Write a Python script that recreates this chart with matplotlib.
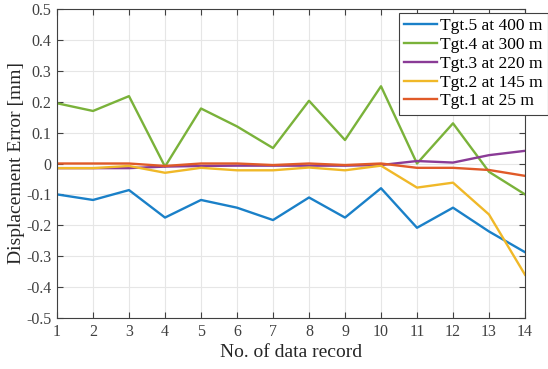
import matplotlib.pyplot as plt

# --------------------------------------------------
# Data
# --------------------------------------------------
records = list(range(1, 15))

tgt5 = [-0.100, -0.118, -0.086, -0.175, -0.118, -0.143, -0.183,
        -0.110, -0.175, -0.080, -0.208, -0.143, -0.220, -0.287]
tgt4 = [0.195, 0.170, 0.218, -0.010, 0.178, 0.120, 0.050,
        0.203, 0.076, 0.250, 0.000, 0.130, -0.027, -0.100]
tgt3 = [-0.015, -0.015, -0.015, -0.010, -0.008, -0.007, -0.007,
        -0.007, -0.007, -0.005, 0.008, 0.003, 0.027, 0.041]
tgt2 = [-0.015, -0.015, -0.008, -0.030, -0.014, -0.022, -0.022,
        -0.013, -0.022, -0.007, -0.078, -0.062, -0.165, -0.360]
tgt1 = [0.000, 0.000, 0.000, -0.008, 0.000, 0.000, -0.005,
        0.000, -0.005, 0.000, -0.014, -0.014, -0.021, -0.040]

labels = ["Tgt.5 at 400 m", "Tgt.4 at 300 m", "Tgt.3 at 220 m",
          "Tgt.2 at 145 m", "Tgt.1 at 25 m"]
colors = ["#1a80c8", "#7ab23a", "#8a3b96", "#f0b828", "#e05a28"]

plt.rcParams['font.family'] = ['Liberation Serif', 'DejaVu Serif']

# --------------------------------------------------
# Plot
# --------------------------------------------------
fig = plt.figure(figsize=(5.48, 3.69), dpi=100)
ax = fig.add_axes([57 / 548, 1 - 318 / 369, 468 / 548, 309 / 369])

for series, label, color in zip([tgt5, tgt4, tgt3, tgt2, tgt1], labels, colors):
    ax.plot(records, series, color=color, linewidth=1.7, label=label)

ax.set_xlim(1, 14)
ax.set_ylim(-0.5, 0.5)
ax.set_xticks(records)
ax.set_yticks([-0.5, -0.4, -0.3, -0.2, -0.1, 0, 0.1, 0.2, 0.3, 0.4, 0.5])
ax.set_yticklabels(["-0.5", "-0.4", "-0.3", "-0.2", "-0.1", "0",
                    "0.1", "0.2", "0.3", "0.4", "0.5"])
ax.tick_params(direction='in', top=True, right=True, labelsize=11.5,
               colors='#404040', length=4, pad=4)
ax.grid(color='#e6e6e6', linewidth=0.8)
ax.set_axisbelow(True)
for spine in ax.spines.values():
    spine.set_color('#404040')
    spine.set_linewidth(0.8)

ax.set_xlabel("No. of data record", fontsize=14, color='#262626', labelpad=3)
ax.set_ylabel("Displacement Error [mm]", fontsize=14, color='#262626', labelpad=1)

leg = ax.legend(loc='upper right', bbox_to_anchor=(1.0, 1 - 13 / 369),
                bbox_transform=fig.transFigure, fontsize=12.5, frameon=True,
                fancybox=False, edgecolor='#404040', framealpha=1,
                handlelength=1.9, handletextpad=0.2, borderpad=0.3,
                labelspacing=0.15, borderaxespad=0.0)
leg.get_frame().set_linewidth(0.8)

plt.savefig("out.png", dpi=100)
